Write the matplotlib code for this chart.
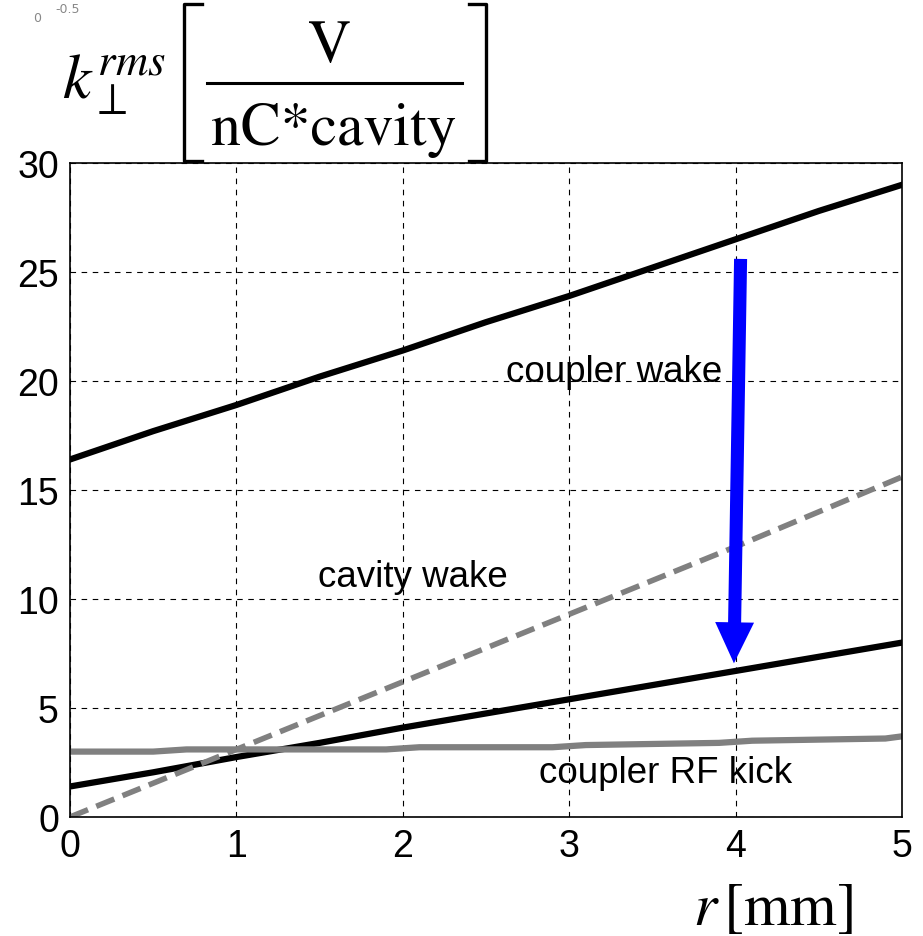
import numpy as np
import matplotlib.pyplot as plt
from matplotlib.lines import Line2D

plt.rcParams['mathtext.fontset'] = 'stix'

# radius [mm]
r = [0, 0.5, 1, 1.5, 2, 2.5, 3, 3.5, 4, 4.5, 5]

coupler_wake = [16.4, 17.7, 18.9, 20.2, 21.4, 22.7, 23.9, 25.2, 26.5, 27.8, 29.0]
coupler_wake_after = [1.4, 2.05, 2.75, 3.4, 4.1, 4.75, 5.4, 6.05, 6.7, 7.35, 8.0]
cavity_wake = [0.0, 1.55, 3.1, 4.65, 6.2, 7.75, 9.3, 10.85, 12.4, 14.0, 15.6]

r_kick = [0, 0.5, 0.7, 1.9, 2.1, 2.9, 3.1, 3.9, 4.1, 4.9, 5]
rf_kick = [3.0, 3.0, 3.1, 3.1, 3.2, 3.2, 3.3, 3.4, 3.5, 3.6, 3.7]

W, H = 923, 937

def fx(x):
    return x / W

def fy(y):
    return 1 - y / H

fig = plt.figure(figsize=(W/100, H/100), dpi=100)
ax = fig.add_axes([fx(70), fy(818), (902-70)/W, (818-164)/H])

ax.plot(r, coupler_wake, color='black', lw=4.5)
ax.plot(r, coupler_wake_after, color='black', lw=4.5)
ax.plot(r, cavity_wake, color='#808080', lw=4.0, ls=(0, (3.5, 1.6)))
ax.plot(r_kick, rf_kick, color='#808080', lw=4.5)

# blue arrow: coupler wake -> reduced coupler wake
ax.annotate('', xy=(3.99, 7.05), xytext=(4.03, 25.6),
            arrowprops=dict(width=9.4, headwidth=28, headlength=29.5,
                            color='#0000ff', lw=0, shrink=0))

ax.text(3.27, 20.0, 'coupler wake', fontsize=26.5, family='Liberation Sans',
        ha='center', va='baseline')
ax.text(2.06, 11.05, 'cavity wake', fontsize=26.5, family='Liberation Sans',
        ha='center', va='center')
ax.text(3.58, 2.06, 'coupler RF kick', fontsize=26.5, family='Liberation Sans',
        ha='center', va='center')

ax.set_xlim(0, 5)
ax.set_ylim(0, 30)
ax.set_xticks(range(6))
ax.set_yticks(range(0, 31, 5))
ax.tick_params(labelsize=27, length=0, pad=8)
for lab in ax.get_xticklabels() + ax.get_yticklabels():
    lab.set_family('Liberation Sans')
ax.grid(True, color='black', ls=(0, (5, 5)), lw=0.8)
for s in ax.spines.values():
    s.set_linewidth(1.2)

# y label: k_perp^rms [ V / nC*cavity ]
fig.text(fx(62), fy(98), r'$k_{\perp}^{rms}$', fontsize=46, va='baseline', ha='left')
fig.text(fx(330), fy(62), 'V', fontsize=43, family='STIXGeneral',
         va='baseline', ha='center')
fig.text(fx(334), fy(145), 'nC*cavity', fontsize=43, family='STIXGeneral',
         va='baseline', ha='center')
fig.add_artist(Line2D([fx(207), fx(462)], [fy(84), fy(84)], color='black', lw=2.2))
fig.add_artist(Line2D([fx(202), fx(184), fx(184), fx(202)],
                      [fy(5), fy(5), fy(162), fy(162)], color='black', lw=2.4))
fig.add_artist(Line2D([fx(469), fx(486), fx(486), fx(469)],
                      [fy(5), fy(5), fy(162), fy(162)], color='black', lw=2.4))

# x label
fig.text(fx(693), fy(925), r'$r\,[\mathrm{mm}]$', fontsize=43, va='baseline', ha='left')

# leftover tick labels from another plot in the corner
fig.text(0.036, 0.976, '0', fontsize=9, color='#888888')
fig.text(0.060, 0.986, '-0.5', fontsize=9, color='#888888')

fig.savefig('out.png', dpi=100)
